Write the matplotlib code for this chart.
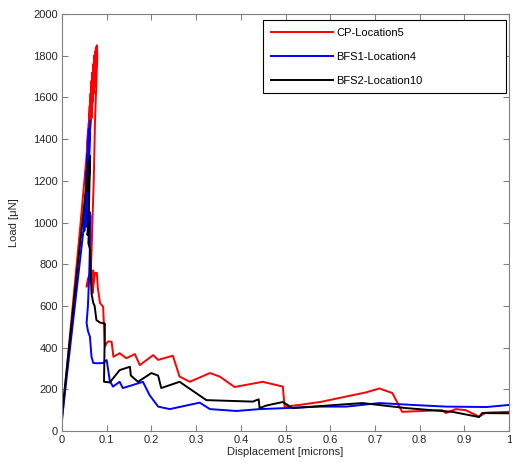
import numpy as np
import matplotlib as mpl
mpl.use('Agg')
import matplotlib.pyplot as plt

# displacement [microns] / load [uN]
cp_x = [0, 0.02, 0.04, 0.055, 0.058, 0.056, 0.060, 0.058, 0.062, 0.060, 0.064, 0.062,
        0.066, 0.063, 0.068, 0.066, 0.070, 0.067, 0.072, 0.069, 0.074, 0.071, 0.076,
        0.073, 0.078, 0.079, 0.074, 0.071, 0.068, 0.066, 0.064, 0.060,
        0.055, 0.058, 0.063, 0.066, 0.070, 0.068, 0.074, 0.078, 0.080, 0.085, 0.092,
        0.096, 0.100, 0.104, 0.111, 0.115, 0.129, 0.144, 0.163, 0.174, 0.204, 0.215,
        0.248, 0.263, 0.286, 0.331, 0.353, 0.386, 0.449, 0.494, 0.498, 0.531, 0.580,
        0.635, 0.680, 0.710, 0.739, 0.761, 0.850, 0.859, 0.881, 0.903, 0.933, 0.948,
        1.0]
cp_y = [50, 510, 960, 1320, 1430, 1250, 1480, 1300, 1560, 1360, 1620, 1400,
        1680, 1450, 1720, 1500, 1760, 1540, 1800, 1580, 1820, 1620, 1840,
        1650, 1850, 1800, 1500, 1200, 1000, 850, 760, 720,
        692, 730, 758, 700, 770, 660, 758, 758, 690, 614, 596,
        405, 422, 430, 428, 356, 373, 349, 369, 316, 364, 341,
        361, 261, 236, 278, 261, 211, 236, 213, 117, 125, 140,
        165, 185, 204, 182, 92, 100, 86, 105, 100, 69, 88,
        92]

bfs1_x = [0, 0.025, 0.050, 0.052, 0.050, 0.055, 0.053, 0.057, 0.055, 0.059, 0.056,
          0.060, 0.058, 0.0625, 0.060, 0.058, 0.062, 0.064, 0.062, 0.061, 0.058,
          0.055, 0.058, 0.0625, 0.066, 0.070, 0.080, 0.092, 0.100, 0.107, 0.114,
          0.129, 0.136, 0.159, 0.181, 0.196, 0.215, 0.241, 0.308, 0.331, 0.390,
          0.442, 0.502, 0.576, 0.636, 0.710, 0.784, 0.859, 0.950, 1.0]
bfs1_y = [60, 530, 1000, 1100, 960, 1250, 1000, 1330, 980, 1400, 1050,
          1450, 1100, 1490, 1200, 960, 1050, 1030, 850, 760, 600,
          518, 480, 452, 356, 326, 325, 326, 340, 240, 213,
          236, 206, 221, 236, 172, 117, 105, 136, 105, 96,
          105, 110, 117, 117, 134, 125, 117, 115, 125]

bfs2_x = [0, 0.03, 0.060, 0.058, 0.061, 0.059, 0.063, 0.060, 0.057, 0.061, 0.059,
          0.063, 0.066, 0.070, 0.073, 0.077, 0.085, 0.096, 0.094, 0.107, 0.129,
          0.152, 0.154, 0.170, 0.200, 0.215, 0.222, 0.263, 0.323, 0.427, 0.440,
          0.442, 0.457, 0.494, 0.516, 0.561, 0.672, 0.769, 0.873, 0.933, 0.940, 1.0]
bfs2_y = [80, 690, 1290, 1200, 1310, 1150, 1320, 1050, 940, 1000, 900,
          870, 660, 614, 600, 532, 520, 515, 236, 233, 292,
          308, 266, 236, 278, 266, 206, 236, 148, 141, 152,
          110, 122, 139, 110, 117, 134, 110, 92, 67, 86, 85]

x_ticks = np.arange(0, 1.01, 0.1)
x_labels = ['0', '0.1', '0.2', '0.3', '0.4', '0.5', '0.6', '0.7', '0.8', '0.9', '1']
y_ticks = np.arange(0, 2001, 200)

plt.rcParams['font.family'] = ['Liberation Sans', 'DejaVu Sans']
plt.rcParams['font.size'] = 8

fig = plt.figure(figsize=(5.12, 4.63), dpi=100)
ax = fig.add_axes([62 / 512, 32 / 463, 447 / 512, 417 / 463])

ax.plot(cp_x, cp_y, color='#ff0000', lw=1.4, label='CP-Location5')
ax.plot(bfs1_x, bfs1_y, color='#0000ff', lw=1.4, label='BFS1-Location4')
ax.plot(bfs2_x, bfs2_y, color='#000000', lw=1.4, label='BFS2-Location10')

ax.set_xlim(0, 1)
ax.set_ylim(0, 2000)
ax.set_xticks(x_ticks)
ax.set_xticklabels(x_labels)
ax.set_yticks(y_ticks)

gray = '#808080'
for s in ax.spines.values():
    s.set_color(gray)
    s.set_linewidth(0.8)
ax.tick_params(direction='in', length=4, width=0.8, color=gray,
               labelcolor='#262626', top=True, right=True, pad=3)

ax.set_xlabel('Displacement [microns]', labelpad=1, color='#262626')
ax.set_ylabel('Load [\u03bcN]', labelpad=10, color='#262626')

# legend box spans roughly x 263..506, y 20..91 px
bx0 = (263 - 62) / 447
bw = (506 - 263) / 447
btop = (431 - 20) / 417
bh = 71 / 417
leg = ax.legend(loc='upper right', bbox_to_anchor=(bx0, btop - bh, bw, bh),
                mode='expand', borderaxespad=0, fancybox=False, framealpha=1,
                edgecolor='black', handlelength=5.6, handletextpad=0.3,
                labelspacing=1.25, borderpad=0.7, fontsize=8)
leg.get_frame().set_linewidth(0.8)

plt.savefig('out.png', dpi=100)
